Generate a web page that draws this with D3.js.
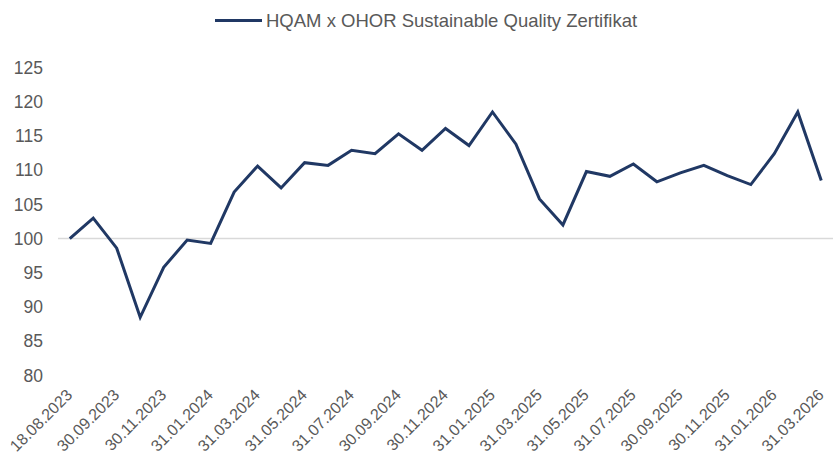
<!DOCTYPE html>
<html lang="de">
<head>
<meta charset="utf-8">
<title>HQAM x OHOR Sustainable Quality Zertifikat</title>
<script src="https://cdn.jsdelivr.net/npm/d3@7"></script>
<style>
  body { margin: 0; background: #fff; }
  text { font-family: "Liberation Sans", Arial, sans-serif; fill: #595959; }
  .line { fill: none; stroke: #203864; stroke-width: 3; stroke-linejoin: miter; }
  .zero { stroke: #d9d9d9; stroke-width: 1.5; }
</style>
</head>
<body>
<script>
var w = 833, h = 454;

var seriesName = "HQAM x OHOR Sustainable Quality Zertifikat";

var dates = [
  "18.08.2023", "31.08.2023", "30.09.2023", "31.10.2023", "30.11.2023", "31.12.2023",
  "31.01.2024", "29.02.2024", "31.03.2024", "30.04.2024", "31.05.2024", "30.06.2024",
  "31.07.2024", "31.08.2024", "30.09.2024", "31.10.2024", "30.11.2024", "31.12.2024",
  "31.01.2025", "28.02.2025", "31.03.2025", "30.04.2025", "31.05.2025", "30.06.2025",
  "31.07.2025", "31.08.2025", "30.09.2025", "31.10.2025", "30.11.2025", "31.12.2025",
  "31.01.2026", "28.02.2026", "31.03.2026"
];

var values = [
  100.0, 103.0, 98.6, 88.5, 95.8, 99.8,
  99.3, 106.8, 110.6, 107.4, 111.1, 110.7,
  112.9, 112.4, 115.3, 112.9, 116.1, 113.6,
  118.5, 113.8, 105.8, 102.0, 109.8, 109.1,
  110.9, 108.3, 109.6, 110.7, 109.2, 107.9,
  112.4, 118.5, 108.5
];

var yTicks = [80, 85, 90, 95, 100, 105, 110, 115, 120, 125];

var data = dates.map(function(d, i) { return { date: d, value: values[i] }; });

var svg = d3.select("body").append("svg")
  .attr("width", w)
  .attr("height", h);

var xScale = d3.scalePoint()
  .domain(dates)
  .range([58, 833])
  .padding(0.5);

var yScale = d3.scaleLinear()
  .domain([80, 125])
  .range([375.5, 67.5]);

// y labels (no axis line, no ticks)
svg.append("g").selectAll("text")
  .data(yTicks)
  .enter().append("text")
  .attr("x", 43)
  .attr("y", function(d) { return yScale(d); })
  .attr("dy", "0.35em")
  .attr("text-anchor", "end")
  .style("font-size", "17.5px")
  .text(function(d) { return d; });

// horizontal axis line at 100
svg.append("line")
  .attr("class", "zero")
  .attr("x1", 58)
  .attr("x2", 833)
  .attr("y1", yScale(100))
  .attr("y2", yScale(100));

// x labels, every second category
svg.append("g").selectAll("text")
  .data(dates.filter(function(d, i) { return i % 2 === 0; }))
  .enter().append("text")
  .attr("text-anchor", "end")
  .attr("transform", function(d) {
    return "translate(" + (xScale(d) + 3.5) + ",396) rotate(-45)";
  })
  .style("font-size", "16px")
  .text(function(d) { return d; });

var line = d3.line()
  .x(function(d) { return xScale(d.date); })
  .y(function(d) { return yScale(d.value); });

svg.append("path")
  .datum(data)
  .attr("class", "line")
  .attr("d", line);

// legend
var legend = svg.append("g");
legend.append("line")
  .attr("x1", 215).attr("x2", 262)
  .attr("y1", 20.5).attr("y2", 20.5)
  .attr("stroke", "#203864")
  .attr("stroke-width", 3);
legend.append("text")
  .attr("x", 266)
  .attr("y", 20.5)
  .attr("dy", "0.35em")
  .style("font-size", "18.5px")
  .text(seriesName);
</script>
</body>
</html>
